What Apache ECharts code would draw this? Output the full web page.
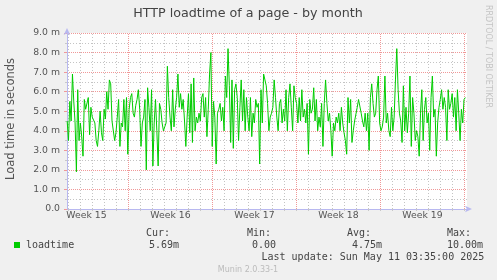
<!DOCTYPE html>
<html><head><meta charset="utf-8">
<script src="https://cdn.jsdelivr.net/npm/echarts@6/dist/echarts.min.js"></script>
<style>html,body{margin:0;padding:0;background:#f0f0f0}#c{width:497px;height:280px}</style>
</head><body><div id="c"></div>
<script>
// Load time (milliseconds, "m") sampled every ~2.6 h over the month
const loadtime = [
 4.5,3.5,5.5,4.5,6.9,5.5,4.4,1.9,6.1,3.5,
 4.4,3.7,2.7,5.6,5.1,5.2,5.7,3.8,5.2,4.7,
 4.8,4.4,3.5,3.2,4.0,5.0,3.9,3.5,5.1,4.6,
 6.0,5.1,6.6,6.4,4.5,4.5,3.5,3.9,4.7,5.6,
 3.2,4.4,4.2,5.6,4.0,5.7,2.8,5.1,5.7,5.9,
 4.9,4.7,5.3,5.6,6.1,5.1,3.2,4.4,4.7,5.6,
 2.0,6.2,5.2,4.0,6.1,2.2,4.4,5.6,4.0,2.2,
 5.4,5.1,4.4,4.0,4.2,4.4,7.3,5.7,
 4.7,4.0,6.1,4.2,5.1,5.7,6.9,5.2,5.9,
 5.1,5.6,4.5,3.2,4.7,5.9,3.9,6.4,3.4,6.7,
 4.0,4.7,4.4,4.9,4.5,5.7,5.9,4.7,5.7,
 3.7,5.1,6.9,8.0,3.2,5.5,4.7,2.3,4.9,5.1,
 5.4,4.5,5.2,4.0,6.8,5.7,8.2,6.3,3.4,6.6,
 3.1,6.1,6.4,5.7,3.5,5.2,6.6,4.5,6.1,4.0,
 5.7,4.7,4.0,5.7,3.7,4.9,4.4,5.6,5.2,5.4,
 2.3,6.1,4.4,6.9,6.6,6.3,5.4,4.0,
 4.7,4.9,5.2,6.6,5.7,4.7,4.0,5.4,5.6,4.4,
 5.1,4.5,6.1,4.0,5.7,6.4,5.2,4.0,6.3,5.7,
 5.4,4.4,5.7,4.5,6.1,4.7,5.1,4.4,5.4,2.8,
 5.6,4.9,5.1,6.2,4.5,5.6,4.0,4.7,4.2,5.4,
 3.2,5.4,6.6,5.4,4.5,4.9,4.0,2.7,4.4,4.0,
 4.7,4.4,4.9,4.0,5.2,4.4,3.9,3.5,2.8,5.7,
 4.4,5.6,3.4,4.0,4.5,4.4,5.2,5.6,5.7,4.9,
 4.5,4.2,4.9,4.0,4.9,3.0,
 5.7,6.4,5.4,4.7,4.9,6.1,6.8,4.4,4.0,4.2,
 4.7,6.8,4.4,4.9,4.0,3.7,5.2,4.0,4.7,6.6,
 8.2,6.1,4.9,4.5,3.4,6.3,4.0,5.2,3.9,4.9,
 6.8,3.2,5.7,4.9,3.5,4.0,3.7,2.7,4.9,6.1,
 3.5,5.1,5.7,4.4,4.9,3.0,5.7,6.8,4.7,5.1,
 2.7,4.4,5.2,5.6,6.1,5.1,5.7,5.2,3.5,6.1,
 5.1,5.4,5.9,4.7,5.7,4.0,6.1,4.9,3.5,5.1,
 4.4,5.6,5.7
];
// time axis in days since Monday of Week 15
const axisStartDay = 1.875;
const axisEndDay = 35.2083;
const firstSampleDay = 1.89;
const lastSampleDay = 35.07;
const dayTicks = [2,3,4,5,6,8,9,10,11,12,13,15,16,17,18,19,20,22,23,24,25,26,27,29,30,31,32,33,34];
const weekTicks = [7,14,21,28,35];
const weekLabelPos = [3.5,10.5,17.5,24.5,31.5];
const weekLabels = ['Week 15','Week 16','Week 17','Week 18','Week 19'];
const yMin = 0, yMax = 9, yStep = 1;
const titleText = 'HTTP loadtime of a page - by month';
const yName = 'Load time in seconds';
const seriesName = 'loadtime';
const statHeaders = ['Cur:','Min:','Avg:','Max:'];
const statValues = ['5.69m','0.00','4.75m','10.00m'];
const lastUpdate = 'Last update: Sun May 11 03:35:00 2025';
const credit = 'RRDTOOL / TOBI OETIKER';
const version = 'Munin 2.0.33-1';

const step = (lastSampleDay - firstSampleDay) / (loadtime.length - 1);
const seriesData = loadtime.map((v, i) => [firstSampleDay + i * step, v]);

const GREY = '#c4c4c4', RED = '#f09898', AXIS = '#b8b8f0';
const tickFont = {fontFamily: 'DejaVu Sans', fontSize: 9.3, color: '#555'};
const mono = 'DejaVu Sans Mono';

const chart = echarts.init(document.getElementById('c'), null, {renderer: 'canvas'});
const statX = [146, 247, 347, 447];
const statValX = [149, 252, 352, 447];
const ta = (a) => ({align: a, verticalAlign: 'middle', textAlign: a, textVerticalAlign: 'middle'});
const graphics = [
  {type: 'text', x: 248, y: 13.5, style: Object.assign({text: titleText, fontFamily: 'DejaVu Sans', fontSize: 12.7, fill: '#444'}, ta('center'))},
  {type: 'text', x: 11, y: 119, rotation: Math.PI / 2, style: Object.assign({text: yName, fontFamily: 'DejaVu Sans', fontSize: 11.5, fill: '#555'}, ta('center'))},
  {type: 'text', x: 488, y: 5, rotation: -Math.PI / 2, style: Object.assign({text: credit, fontFamily: 'DejaVu Sans', fontSize: 8, fill: '#c4c4c4'}, ta('left'))},
  {type: 'rect', shape: {x: 14, y: 242, width: 6, height: 6}, style: {fill: '#00cc00'}},
  {type: 'text', x: 26, y: 245.5, style: Object.assign({text: seriesName, fontFamily: mono, fontSize: 10, fill: '#444'}, ta('left'))},
  {type: 'text', x: 261.5, y: 257.8, style: Object.assign({text: lastUpdate, fontFamily: mono, fontSize: 10, fill: '#444'}, ta('left'))},
  {type: 'text', x: 248, y: 269.5, style: Object.assign({text: version, fontFamily: 'DejaVu Sans', fontSize: 8, fill: '#bbb'}, ta('center'))}
];
statHeaders.forEach((h, i) => {
  graphics.push({type: 'text', x: statX[i], y: 233.3, style: Object.assign({text: h, fontFamily: mono, fontSize: 10, fill: '#444'}, ta('left'))});
  graphics.push({type: 'text', x: statValX[i], y: 245.5, style: Object.assign({text: statValues[i], fontFamily: mono, fontSize: 10, fill: '#444'}, ta('left'))});
});

const vLines = dayTicks.map(d => ({xAxis: d, lineStyle: {color: GREY, type: [1, 2], width: 1}}))
  .concat(weekTicks.map(d => ({xAxis: d, lineStyle: {color: RED, type: [1, 1], width: 1}})));

chart.setOption({
  animation: false,
  backgroundColor: '#f0f0f0',
  grid: {left: 67, right: 30, top: 33, bottom: 71, show: true, backgroundColor: '#ffffff', borderWidth: 0},
  xAxis: {
    type: 'value', min: axisStartDay, max: axisEndDay, position: 'bottom',
    axisLine: {show: true, lineStyle: {color: AXIS, width: 1}, symbol: ['none', 'arrow'], symbolSize: [5, 7], symbolOffset: [0, 5]},
    axisTick: {show: true, customValues: dayTicks.concat(weekTicks), length: 2, lineStyle: {color: '#c8c8c8'}},
    axisLabel: Object.assign({show: true, customValues: weekLabelPos, margin: 2, formatter: v => weekLabels[weekLabelPos.indexOf(v)] || ''}, tickFont),
    splitLine: {show: false}
  },
  yAxis: {
    type: 'value', min: yMin, max: yMax, interval: yStep,
    axisLine: {show: true, lineStyle: {color: AXIS, width: 1}, symbol: ['none', 'arrow'], symbolSize: [5, 7], symbolOffset: [0, 5]},
    axisTick: {show: true, length: 3, lineStyle: {color: RED}},
    minorTick: {show: true, splitNumber: 2, length: 2, lineStyle: {color: '#c8c8c8'}},
    minorSplitLine: {show: true, lineStyle: {color: GREY, type: [1, 2], width: 1}},
    splitLine: {show: true, lineStyle: {color: RED, type: [1, 1], width: 1}},
    axisLabel: Object.assign({margin: 7, formatter: v => v === 0 ? '0.0' : v.toFixed(1) + ' m'}, tickFont)
  },
  series: [
    {
      name: 'grid', type: 'line', data: [], silent: true, z: 1,
      markLine: {silent: true, symbol: 'none', label: {show: false}, animation: false, data: vLines}
    },
    {
      name: seriesName, type: 'line', data: seriesData,
      showSymbol: false, symbol: 'none', lineStyle: {color: '#00cc00', width: 1}, z: 5
    }
  ],
  graphic: graphics
});
</script></body></html>
